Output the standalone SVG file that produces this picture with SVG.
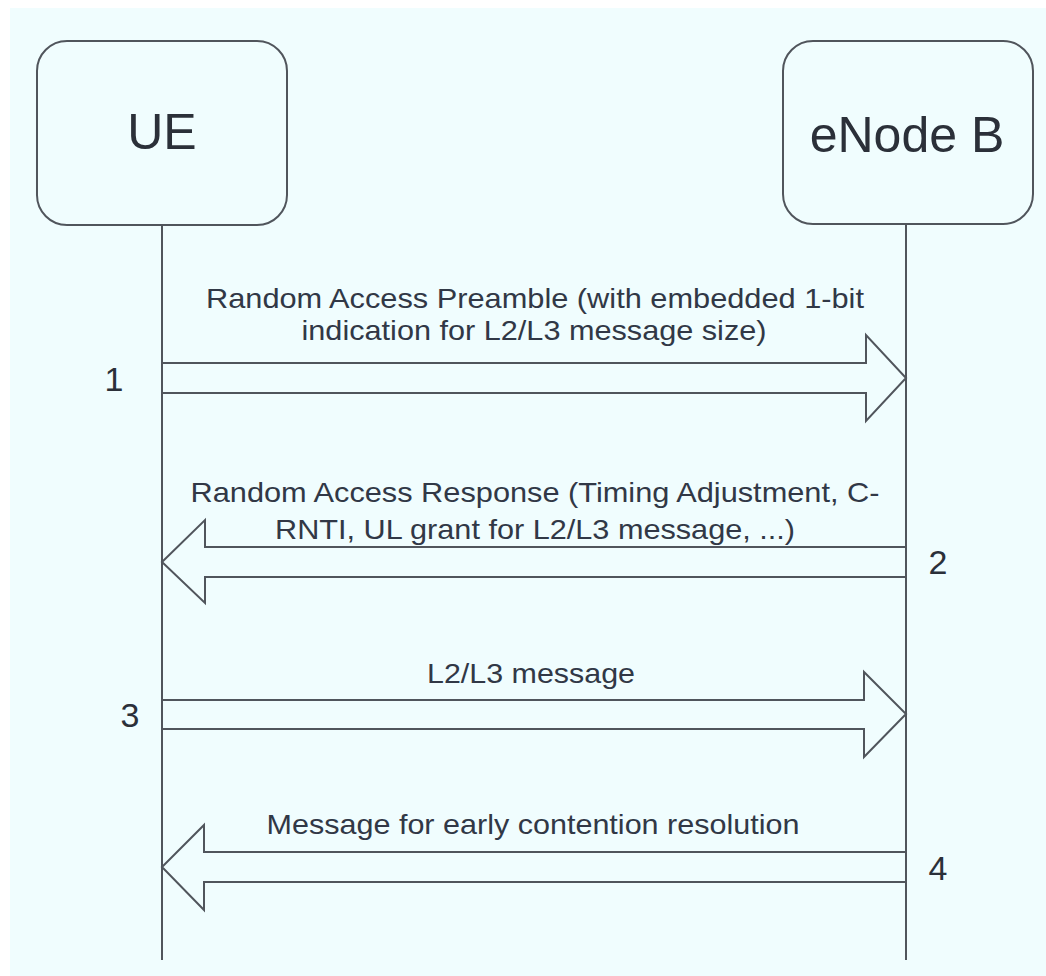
<svg xmlns="http://www.w3.org/2000/svg" width="1046" height="976" viewBox="0 0 1046 976">
  <style>
    .entity { fill: #f0fdfe; stroke: #50555c; stroke-width: 2; }
    .title { font-family: "Liberation Sans", Arial, sans-serif; font-size: 50px; fill: #2b3039; text-anchor: middle; }
    .lifeline { stroke: #50555c; stroke-width: 2; fill: none; }
    .msg { fill: none; stroke: #50555c; stroke-width: 2; stroke-linejoin: miter; }
    .label { font-family: "Liberation Sans", Arial, sans-serif; font-size: 28px; fill: #313846; text-anchor: middle; }
    .step { font-family: "Liberation Sans", Arial, sans-serif; font-size: 34px; fill: #2b3039; text-anchor: middle; }
  </style>

  <!-- page background -->
  <rect x="0" y="0" width="1046" height="976" fill="#ffffff"/>
  <rect x="10" y="8" width="1036" height="968" fill="#f0fdfe"/>

  <!-- participants -->
  <g id="ue">
    <rect class="entity" x="37" y="41" width="250" height="184" rx="30" ry="30"/>
    <text class="title" x="162" y="149">UE</text>
  </g>
  <g id="enodeb">
    <rect class="entity" x="783" y="41" width="250" height="183" rx="30" ry="30"/>
    <text class="title" x="907" y="152">eNode B</text>
  </g>

  <!-- lifelines and message arrows -->
  <g id="connectors">
    <line class="lifeline" x1="162" y1="225" x2="162" y2="960"/>
    <line class="lifeline" x1="906" y1="224" x2="906" y2="960"/>

    <!-- 1: preamble, UE to eNode B -->
    <polyline class="msg" points="162,363 866,363 866,335 906,378 866,421 866,393 162,393"/>
    <!-- 2: response, eNode B to UE -->
    <polyline class="msg" points="906,547 205,547 205,520 162,562 205,603 205,577 906,577"/>
    <!-- 3: L2/L3 message, UE to eNode B -->
    <polyline class="msg" points="162,700 864,700 864,672 906,714 864,757 864,729 162,729"/>
    <!-- 4: contention resolution, eNode B to UE -->
    <polyline class="msg" points="906,852 204,852 204,825 162,867 204,910 204,882 906,882"/>
  </g>

  <!-- message labels -->
  <g id="labels">
    <text class="label" x="535" y="308" textLength="658" lengthAdjust="spacingAndGlyphs">Random Access Preamble (with embedded 1-bit</text>
    <text class="label" x="534" y="340" textLength="465" lengthAdjust="spacingAndGlyphs">indication for L2/L3 message size)</text>
    <text class="label" x="535" y="502" textLength="689" lengthAdjust="spacingAndGlyphs">Random Access Response (Timing Adjustment, C-</text>
    <text class="label" x="535" y="539" textLength="520" lengthAdjust="spacingAndGlyphs">RNTI, UL grant for L2/L3 message, ...)</text>
    <text class="label" x="531" y="683" textLength="208" lengthAdjust="spacingAndGlyphs">L2/L3 message</text>
    <text class="label" x="533" y="834" textLength="533" lengthAdjust="spacingAndGlyphs">Message for early contention resolution</text>
  </g>

  <!-- step numbers -->
  <g id="steps">
    <text class="step" x="114" y="391">1</text>
    <text class="step" x="938" y="574">2</text>
    <text class="step" x="130" y="727">3</text>
    <text class="step" x="938" y="880">4</text>
  </g>
</svg>
